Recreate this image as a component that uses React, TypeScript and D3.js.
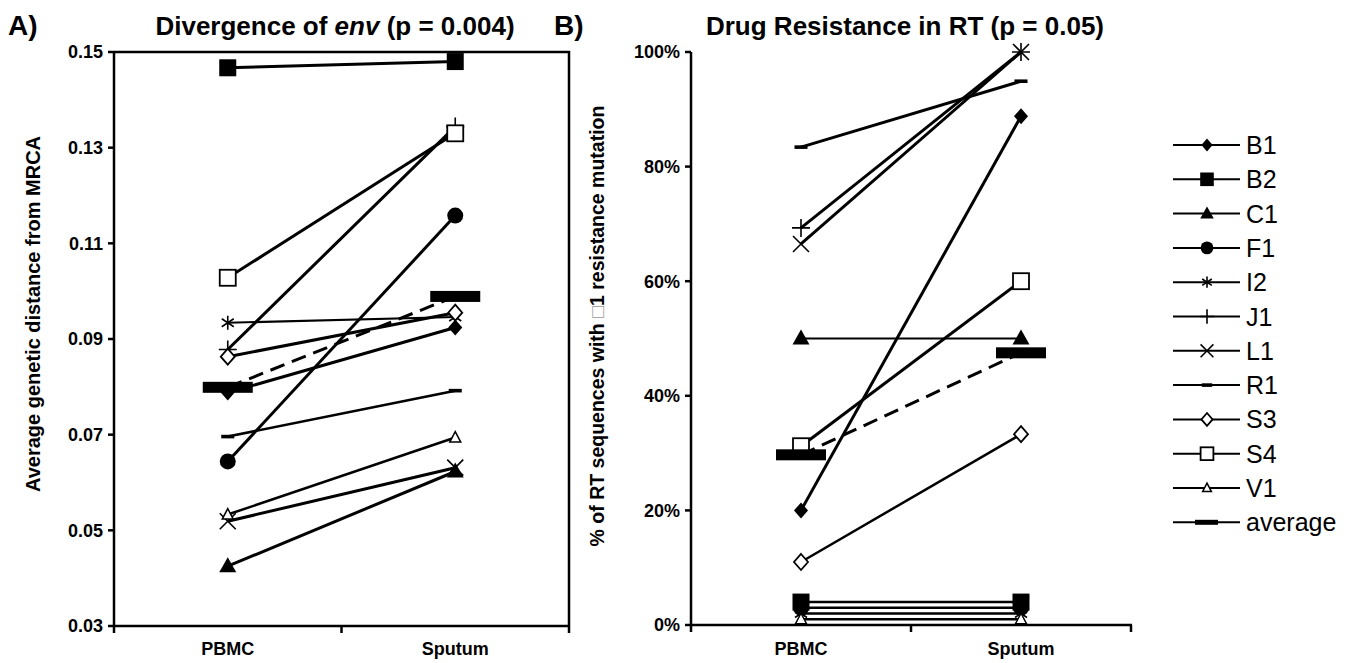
import React from "react";
import * as d3 from "d3";

const categories = ["PBMC", "Sputum"];
const patients = ["B1", "B2", "C1", "F1", "I2", "J1", "L1", "R1", "S3", "S4", "V1"];
const markers = ["diamond", "square", "triangle", "circle", "asterisk", "plus", "times", "dash", "diamondOpen", "squareOpen", "triangleOpen"];

// panel A: average genetic distance from MRCA
const divergencePBMC = [0.0788, 0.1467, 0.0425, 0.0644, 0.0934, 0.0878, 0.0519, 0.0696, 0.0863, 0.1028, 0.0533];
const divergenceSputum = [0.0924, 0.148, 0.0623, 0.1158, 0.0946, 0.1344, 0.0631, 0.0792, 0.0955, 0.133, 0.0694];
const divergenceAverage = [0.0799, 0.0989];
const divergenceTicks = [0.03, 0.05, 0.07, 0.09, 0.11, 0.13, 0.15];

// panel B: % of RT sequences with resistance mutation
const resistancePBMC = [20, 4, 50, 3, 2, 69.3, 66.5, 83.4, 11, 31.2, 1];
const resistanceSputum = [88.8, 4, 50, 3, 2, 100, 100, 94.9, 33.3, 60, 1];
const resistanceAverage = [29.7, 47.5];
const resistanceTicks = [0, 20, 40, 60, 80, 100];

const FONT = "Arial, 'Liberation Sans', sans-serif";

function Marker({ type, x, y, k = 1 }: { type: string; x: number; y: number; k?: number }) {
  const t = `translate(${x},${y})`;
  const s = (v: number) => v * k;
  switch (type) {
    case "diamond":
      return <path transform={t} d={`M0,${-s(8)}L${s(7)},0L0,${s(8)}L${-s(7)},0Z`} fill="#000" />;
    case "square":
      return <rect transform={t} x={-s(8.5)} y={-s(8.5)} width={s(17)} height={s(17)} fill="#000" />;
    case "triangle":
      return <path transform={t} d={`M0,${-s(9)}L${s(8.5)},${s(6)}L${-s(8.5)},${s(6)}Z`} fill="#000" />;
    case "circle":
      return <circle transform={t} r={s(8)} fill="#000" />;
    case "asterisk":
      return (
        <path transform={t} d={`M0,${-s(7)}V${s(7)}M${-s(6)},${-s(4)}L${s(6)},${s(4)}M${-s(6)},${s(4)}L${s(6)},${-s(4)}`}
          stroke="#000" strokeWidth={1.6} fill="none" />
      );
    case "plus":
      return <path transform={t} d={`M0,${-s(9)}V${s(9)}M${-s(9)},0H${s(9)}`} stroke="#000" strokeWidth={1.6} fill="none" />;
    case "times":
      return <path transform={t} d={`M${-s(8)},${-s(8)}L${s(8)},${s(8)}M${-s(8)},${s(8)}L${s(8)},${-s(8)}`} stroke="#000" strokeWidth={1.6} fill="none" />;
    case "dash":
      return <rect transform={t} x={-s(6.5)} y={-1.8} width={s(13)} height={3.6} fill="#000" />;
    case "diamondOpen":
      return <path transform={t} d={`M0,${-s(8)}L${s(7)},0L0,${s(8)}L${-s(7)},0Z`} fill="#fff" stroke="#000" strokeWidth={1.8} />;
    case "squareOpen":
      return <rect transform={t} x={-s(8)} y={-s(8)} width={s(16)} height={s(16)} fill="#fff" stroke="#000" strokeWidth={1.8} />;
    case "triangleOpen":
      return <path transform={t} d={`M0,${-s(6)}L${s(5.5)},${s(4.5)}L${-s(5.5)},${s(4.5)}Z`} fill="#fff" stroke="#000" strokeWidth={1.5} />;
    case "average":
      return <rect transform={t} x={-s(25)} y={-s(5.5)} width={s(50)} height={s(11)} fill="#000" />;
  }
  return null;
}

type PanelProps = {
  left: number;
  right: number;
  top: number;
  bottom: number;
  domain: [number, number];
  ticks: number[];
  fmt: (v: number) => string;
  first: number[];
  second: number[];
  average: number[];
  box: boolean;
  widths: number[];
};

function Panel(p: PanelProps) {
  const x = d3.scaleBand().domain(categories).range([p.left, p.right]);
  const y = d3.scaleLinear().domain(p.domain).range([p.bottom, p.top]);
  const cx = (c: string) => (x(c) as number) + x.bandwidth() / 2;
  const line = d3.line<[string, number]>().x(d => cx(d[0])).y(d => y(d[1]));
  const series = patients.map((name, i) => [
    [categories[0], p.first[i]],
    [categories[1], p.second[i]],
  ] as [string, number][]);
  const avg = categories.map((c, i) => [c, p.average[i]] as [string, number]);
  const bandEdges = [p.left, ...categories.map(c => (x(c) as number) + x.bandwidth())];

  return (
    <g>
      {p.box && (
        <path d={`M${p.left},${p.top}H${p.right}V${p.bottom}`} fill="none" stroke="#000" strokeWidth={2.5} />
      )}
      {series.map((s, i) => (
        <path key={i} d={line(s) || ""} fill="none" stroke="#000" strokeWidth={p.widths[i]} />
      ))}
      <path d={line(avg) || ""} fill="none" stroke="#000" strokeWidth={3} strokeDasharray="15,8" />
      {series.map((s, i) =>
        s.map((d, j) => <Marker key={`${i}-${j}`} type={markers[i]} x={cx(d[0])} y={y(d[1])} />)
      )}
      {avg.map((d, j) => <Marker key={`a${j}`} type="average" x={cx(d[0])} y={y(d[1])} />)}
      {/* axes */}
      <line x1={p.left} x2={p.left} y1={p.top} y2={p.bottom + 1} stroke="#000" strokeWidth={2.5} />
      <line x1={p.left - 1} x2={p.right + 1} y1={p.bottom} y2={p.bottom} stroke="#000" strokeWidth={2.5} />
      {p.ticks.map(t => (
        <g key={t}>
          <line x1={p.left - 6} x2={p.left} y1={y(t)} y2={y(t)} stroke="#000" strokeWidth={2.5} />
          <text x={p.left - 11} y={y(t)} dy="0.36em" textAnchor="end" fontFamily={FONT} fontWeight="bold" fontSize={18}>
            {p.fmt(t)}
          </text>
        </g>
      ))}
      {bandEdges.map(e => (
        <line key={e} x1={e} x2={e} y1={p.bottom} y2={p.bottom + 7} stroke="#000" strokeWidth={2.5} />
      ))}
      {categories.map(c => (
        <text key={c} x={cx(c)} y={655} textAnchor="middle" fontFamily={FONT} fontWeight="bold" fontSize={18}>
          {c}
        </text>
      ))}
    </g>
  );
}

function Legend({ x, y, step }: { x: number; y: number; step: number }) {
  const items = [...patients.map((n, i) => ({ n, m: markers[i] })), { n: "average", m: "legendAverage" }];
  return (
    <g>
      {items.map((it, i) => {
        const yy = y + i * step;
        return (
          <g key={it.n}>
            <line x1={x} x2={x + 67} y1={yy} y2={yy} stroke="#000" strokeWidth={2} />
            {it.m === "legendAverage" ? (
              <rect x={x + 22} y={yy - 2.5} width={23} height={5} fill="#000" />
            ) : (
              <Marker type={it.m} x={x + 34} y={yy} k={0.8} />
            )}
            <text x={x + 73} y={yy} dy="0.36em" fontFamily={FONT} fontSize={25}>
              {it.n}
            </text>
          </g>
        );
      })}
    </g>
  );
}

export default function App() {
  return (
    <svg width={1357} height={663} style={{ position: "absolute", left: 0, top: 0, background: "#fff" }}>
      <rect width={1357} height={663} fill="#fff" />
      <text x={8} y={35} fontFamily={FONT} fontWeight="bold" fontSize={28}>A)</text>
      <text x={335} y={35} textAnchor="middle" fontFamily={FONT} fontWeight="bold" fontSize={26}>
        Divergence of <tspan fontStyle="italic">env</tspan> (p = 0.004)
      </text>
      <text x={554} y={35} fontFamily={FONT} fontWeight="bold" fontSize={28}>B)</text>
      <text x={905} y={35} textAnchor="middle" fontFamily={FONT} fontWeight="bold" fontSize={26}>
        Drug Resistance in RT (p = 0.05)
      </text>

      <text transform="translate(40,314) rotate(-90)" textAnchor="middle" fontFamily={FONT} fontWeight="bold" fontSize={20}>
        Average genetic distance from MRCA
      </text>
      <text transform="translate(604,326) rotate(-90)" textAnchor="middle" fontFamily={FONT} fontWeight="bold" fontSize={19.5}>
        % of RT sequences with <tspan fill="#999" fontWeight="normal">□</tspan>1 resistance mutation
      </text>

      <Panel left={114} right={569} top={52} bottom={626} domain={[0.03, 0.15]} ticks={divergenceTicks}
        fmt={v => v.toFixed(2)} first={divergencePBMC} second={divergenceSputum} average={divergenceAverage} box={true}
        widths={[3, 3, 3, 3, 2.2, 3, 3, 2.5, 3, 3, 2.5]} />
      <Panel left={691} right={1131} top={52} bottom={625} domain={[0, 100]} ticks={resistanceTicks}
        fmt={v => `${v}%`} first={resistancePBMC} second={resistanceSputum} average={resistanceAverage} box={false}
        widths={[3, 2.5, 2.2, 2.5, 2.5, 3, 3, 3, 2.5, 3, 2.5]} />

      <Legend x={1173} y={145} step={34.3} />
    </svg>
  );
}
